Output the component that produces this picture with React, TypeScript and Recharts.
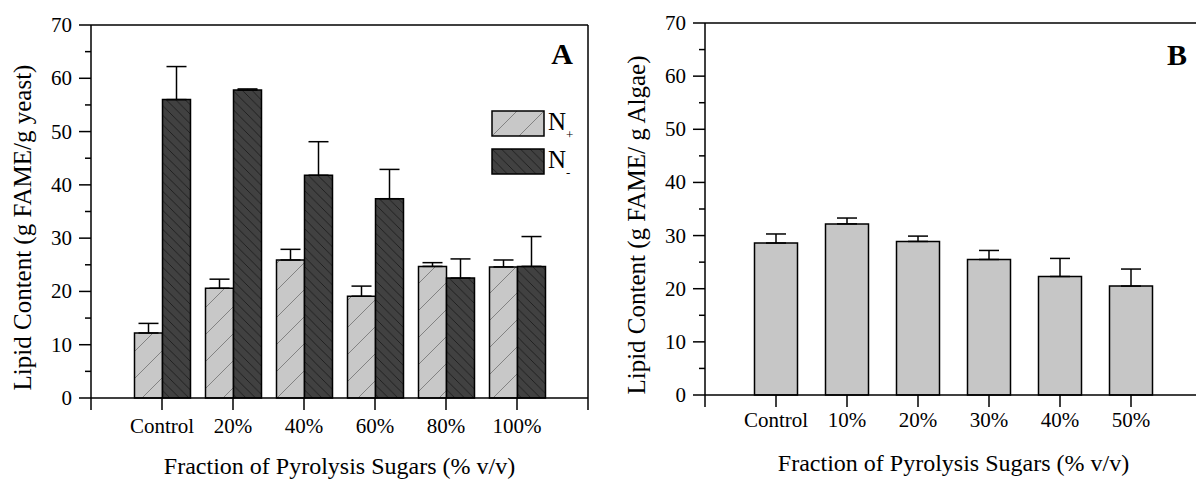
import React from "react";
import { BarChart, Bar, XAxis, YAxis, ErrorBar, Legend, ReferenceLine } from "recharts";

// Panel A: yeast, two nitrogen conditions
const YEAST_CATS = ["Control", "20%", "40%", "60%", "80%", "100%"];
const N_PLUS = [12.2, 20.6, 25.9, 19.1, 24.7, 24.6];
const N_PLUS_ERR = [1.8, 1.7, 2.0, 1.9, 0.7, 1.3];
const N_MINUS = [56.0, 57.8, 41.8, 37.4, 22.5, 24.7];
const N_MINUS_ERR = [6.2, 0.2, 6.3, 5.5, 3.6, 5.6];

// Panel B: algae
const ALGAE_CATS = ["Control", "10%", "20%", "30%", "40%", "50%"];
const ALGAE = [28.6, 32.2, 28.9, 25.5, 22.3, 20.5];
const ALGAE_ERR = [1.7, 1.1, 1.0, 1.7, 3.4, 3.2];

const Y_TICKS = [0, 5, 10, 15, 20, 25, 30, 35, 40, 45, 50, 55, 60, 65, 70];
const X_TITLE = "Fraction of Pyrolysis Sugars (% v/v)";

const FONT = '"Liberation Serif", "Times New Roman", serif';
const AXIS = { stroke: "#000", strokeWidth: 1.5 };

// one empty slot on each side of the categories
const slotTicks = (cats: string[]) => [0, ...cats.map((_, i) => i + 1), cats.length + 1];

const yeastData = YEAST_CATS.map((c, i) => ({
  pos: i + 1,
  plus: N_PLUS[i],
  plusErr: [0, N_PLUS_ERR[i]],
  minus: N_MINUS[i],
  minusErr: [0, N_MINUS_ERR[i]],
}));

const algaeData = ALGAE_CATS.map((c, i) => ({
  pos: i + 1,
  lipid: ALGAE[i],
  lipidErr: [0, ALGAE_ERR[i]],
}));

function YTick({ x, y, payload }: any) {
  const major = payload.value % 10 === 0;
  return (
    <g>
      <line x1={x - (major ? 12 : 6)} x2={x} y1={y} y2={y} stroke="#000" strokeWidth={1.5} />
      {major && (
        <text x={x - 19} y={y + 7} textAnchor="end" fontSize={21} fontFamily={FONT} fill="#000">
          {payload.value}
        </text>
      )}
    </g>
  );
}

const makeXTick = (cats: string[], dy: number) => ({ x, y, payload }: any) => {
  const label = cats[payload.value - 1];
  return (
    <g>
      <line x1={x} x2={x} y1={y} y2={y + 12} stroke="#000" strokeWidth={1.5} />
      {label && (
        <text x={x} y={y + dy} textAnchor="middle" fontSize={21} fontFamily={FONT} fill="#000">
          {label}
        </text>
      )}
    </g>
  );
};

const yTitle = (text: string) => ({ viewBox }: any) => {
  const cx = viewBox.x + viewBox.width - 69;
  const cy = viewBox.y + viewBox.height / 2 + 16;
  return (
    <text
      x={cx}
      y={cy}
      transform={`rotate(-90, ${cx}, ${cy})`}
      textAnchor="middle"
      dominantBaseline="central"
      fontSize={25}
      fontFamily={FONT}
      fill="#000"
    >
      {text}
    </text>
  );
};

const xTitle = ({ viewBox }: any) => (
  <text
    x={viewBox.x + viewBox.width / 2}
    y={viewBox.y + 76}
    textAnchor="middle"
    fontSize={24}
    fontFamily={FONT}
    fill="#000"
  >
    {X_TITLE}
  </text>
);

function NLegend({ payload }: any) {
  return (
    <svg width={110} height={74} style={{ overflow: "visible" }}>
      {(payload || []).map((p: any, i: number) => {
        const name = String(p.value);
        return (
          <g key={name} transform={`translate(0, ${i * 38})`}>
            <rect x={1} y={1} width={52} height={25} fill={p.color} stroke="#000" strokeWidth={1.5} />
            <text x={57} y={20} fontSize={25} fontFamily={FONT} fill="#000">
              {name[0]}
              <tspan dy={9} fontSize={13}>{name.slice(1)}</tspan>
            </text>
          </g>
        );
      })}
    </svg>
  );
}

function YeastPanel() {
  const n = YEAST_CATS.length + 1;
  return (
    <BarChart
      width={600}
      height={480}
      data={yeastData}
      margin={{ top: 25, right: 12, bottom: 0, left: 0 }}
      barGap={0}
    >
      <defs>
        <pattern id="hatchPlus" patternUnits="userSpaceOnUse" width={27} height={27}>
          <rect width={27} height={27} fill="#c8c8c8" />
          <path d="M0,27 L27,0 M-3,3 L3,-3 M24,30 L30,24" stroke="#7a7a7a" strokeWidth={0.9} />
        </pattern>
        <pattern id="hatchMinus" patternUnits="userSpaceOnUse" width={9.5} height={9.5}>
          <rect width={9.5} height={9.5} fill="#414141" />
          <path d="M0,0 L9.5,9.5 M-2,7.5 L2,11.5 M7.5,-2 L11.5,2" stroke="#1c1c1c" strokeWidth={0.9} />
        </pattern>
      </defs>
      <XAxis
        type="number"
        dataKey="pos"
        domain={[0, n]}
        ticks={slotTicks(YEAST_CATS)}
        interval={0}
        height={82}
        tickSize={0}
        tickMargin={0}
        tickLine={false}
        axisLine={AXIS}
        tick={makeXTick(YEAST_CATS, 35)}
        label={{ content: xTitle }}
      />
      <YAxis
        domain={[0, 70]}
        ticks={Y_TICKS}
        interval={0}
        width={91}
        tickSize={0}
        tickMargin={0}
        tickLine={false}
        axisLine={AXIS}
        tick={YTick}
        label={{ content: yTitle("Lipid Content (g FAME/g yeast)") }}
      />
      <ReferenceLine y={70} stroke="#000" strokeWidth={1.5} ifOverflow="visible" />
      <ReferenceLine x={n} stroke="#000" strokeWidth={1.5} ifOverflow="visible" />
      <Legend
        layout="horizontal"
        verticalAlign="middle"
        align="center"
        wrapperStyle={{ left: 491, top: 110, width: 110, height: 74 }}
        content={NLegend}
      />
      <Bar dataKey="plus" name="N+" fill="url(#hatchPlus)" stroke="#000" strokeWidth={1.5} barSize={28} isAnimationActive={false}>
        <ErrorBar dataKey="plusErr" direction="y" width={10} stroke="#000" strokeWidth={1.5} />
      </Bar>
      <Bar dataKey="minus" name="N-" fill="url(#hatchMinus)" stroke="#000" strokeWidth={1.5} barSize={28} isAnimationActive={false}>
        <ErrorBar dataKey="minusErr" direction="y" width={10} stroke="#000" strokeWidth={1.5} />
      </Bar>
      <text x={562} y={64} textAnchor="middle" fontSize={30} fontWeight="bold" fontFamily={FONT} fill="#000">
        A
      </text>
    </BarChart>
  );
}

function AlgaePanel() {
  const n = ALGAE_CATS.length + 1;
  return (
    <BarChart
      width={602}
      height={480}
      data={algaeData}
      margin={{ top: 23, right: 0, bottom: 0, left: 0 }}
    >
      <XAxis
        type="number"
        dataKey="pos"
        domain={[0, n]}
        ticks={slotTicks(ALGAE_CATS)}
        interval={0}
        height={85}
        tickSize={0}
        tickMargin={0}
        tickLine={false}
        axisLine={AXIS}
        tick={makeXTick(ALGAE_CATS, 32)}
        label={{ content: xTitle }}
      />
      <YAxis
        domain={[0, 70]}
        ticks={Y_TICKS}
        interval={0}
        width={105}
        tickSize={0}
        tickMargin={0}
        tickLine={false}
        axisLine={AXIS}
        tick={YTick}
        label={{ content: yTitle("Lipid Content (g FAME/ g Algae)") }}
      />
      <ReferenceLine y={70} stroke="#000" strokeWidth={1.5} ifOverflow="visible" />
      <ReferenceLine x={n} stroke="#000" strokeWidth={1.5} ifOverflow="visible" />
      <Bar dataKey="lipid" fill="#c6c6c6" stroke="#000" strokeWidth={1.5} barSize={43} isAnimationActive={false}>
        <ErrorBar dataKey="lipidErr" direction="y" width={10} stroke="#000" strokeWidth={1.5} />
      </Bar>
      <text x={577} y={65} textAnchor="middle" fontSize={30} fontWeight="bold" fontFamily={FONT} fill="#000">
        B
      </text>
    </BarChart>
  );
}

export default function App() {
  return (
    <div
      style={{
        position: "fixed",
        left: 0,
        top: 0,
        width: 1196,
        height: 480,
        overflow: "hidden",
        background: "#fff",
      }}
    >
      <div style={{ position: "absolute", left: 0, top: 0 }}>
        <YeastPanel />
      </div>
      <div style={{ position: "absolute", left: 600, top: 0 }}>
        <AlgaePanel />
      </div>
    </div>
  );
}
